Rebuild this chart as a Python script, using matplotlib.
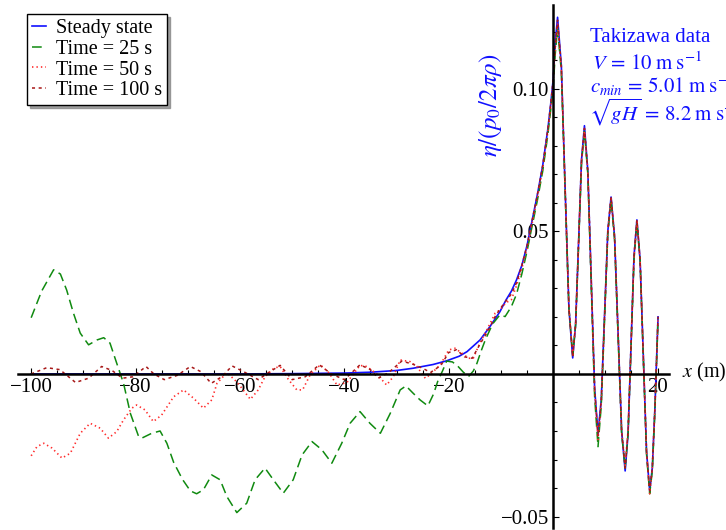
import numpy as np
import matplotlib
matplotlib.use("Agg")
import matplotlib.pyplot as plt

plt.rcParams['font.family'] = ['Liberation Serif', 'DejaVu Serif']
plt.rcParams['mathtext.fontset'] = 'stix'
plt.rcParams['lines.scale_dashes'] = False

# ---- data ----
# near field x grid shared by all four curves
x_near = [-8, -7, -6, -5, -4, -3, -2, -1, -0.5, 0, 0.4, 0.85, 1.575, 2.3, 3.025, 3.75,
          4.31, 4.875, 5.44, 6.0, 6.65, 7.3, 7.95, 8.6, 9.225, 9.85, 10.475, 11.1,
          11.775, 12.45, 13.125, 13.8, 14.36, 14.925, 15.49, 16.05, 16.66, 17.275,
          17.89, 18.5, 19.0, 19.5, 20.1]

# steady state
x_far_ss = [-100, -60, -50, -45, -40, -35, -30, -26.8, -23, -20.4, -18, -16.5, -14,
            -12.1, -10.2, -9]
y_far_ss = [0, 0, 0.0001, 0.0002, 0.0003, 0.0006, 0.0012, 0.002, 0.0033, 0.0046,
            0.0062, 0.0078, 0.0119, 0.0166, 0.0218, 0.026]
y_near_ss = [0.029, 0.033, 0.038, 0.045, 0.054, 0.063, 0.073, 0.086, 0.094, 0.103,
             0.116, 0.125, 0.108, 0.065, 0.023, 0.0056, 0.0175, 0.046, 0.075, 0.087,
             0.071, 0.033, -0.005, -0.021, -0.009, 0.0205, 0.050, 0.062, 0.048,
             0.014, -0.020, -0.034, -0.021, 0.010, 0.041, 0.054, 0.040, 0.0065,
             -0.027, -0.041, -0.033, -0.012, 0.020]

# time = 25 s
x_far_25 = [-100, -98, -95.7, -94.4, -93.2, -91.9, -90.6, -89.0, -87.4, -86.1, -84.9,
            -83.6, -82.3, -81.0, -79.4, -78.8, -76.9, -75.3, -74.0, -72.7, -71.0,
            -69.5, -68.3, -67.0, -65.4, -63.8, -62.5, -60.6, -58.7, -57.1, -55.2,
            -53.6, -51.7, -49.8, -48.1, -46.2, -44.3, -42.4, -40.5, -38.9, -37.0,
            -35.1, -33.1, -31.2, -29.3, -28.2, -26.8, -25.5, -24.0, -22.9, -22.0,
            -21.2, -20.4, -19.3, -18.4, -17.2, -16.2, -15.3, -14.6, -13.8, -13.0,
            -11.6, -10.2, -9.2]
y_far_25 = [0.0197, 0.029, 0.0365, 0.035, 0.0294, 0.0213, 0.0143, 0.0102, 0.0119,
            0.0127, 0.0108, 0.0037, -0.0033, -0.0138, -0.022, -0.0225, -0.0208,
            -0.020, -0.0243, -0.031, -0.037, -0.041, -0.042, -0.0406, -0.0354,
            -0.0371, -0.043, -0.0486, -0.0453, -0.0371, -0.033, -0.0371, -0.0418,
            -0.0371, -0.0284, -0.0237, -0.0266, -0.0313, -0.0243, -0.0173, -0.0132,
            -0.0173, -0.0208, -0.0138, -0.0056, -0.0042, -0.0068, -0.0091, -0.0112,
            -0.007, -0.002, 0.001, 0.0045, 0.0042, 0.003, 0.0006, -0.0009, 0.001,
            0.0037, 0.008, 0.0119, 0.0175, 0.0207, 0.0201]
y_near_25 = [0.0236, 0.028, 0.035, 0.043, 0.052, 0.061, 0.071, 0.084, 0.092, 0.100,
             0.112, 0.121, 0.106, 0.064, 0.023, 0.0065, 0.017, 0.045, 0.074, 0.085,
             0.070, 0.031, -0.008, -0.0255, -0.011, 0.019, 0.049, 0.061, 0.047,
             0.013, -0.021, -0.033, -0.021, 0.009, 0.040, 0.053, 0.040, 0.006,
             -0.028, -0.042, -0.034, -0.013, 0.019]

# time = 50 s
x_far_50 = [-100, -98.9, -97.6, -96.0, -94.1, -92.5, -90.6, -88.7, -86.8, -85.2,
            -83.6, -82.3, -80.7, -79.8, -78.2, -76.6, -75.0, -72.7, -70.8, -68.9,
            -67.0, -65.4, -64.4, -62.5, -60.5, -58.0, -56.5, -55.2, -53.5, -52.3,
            -50.7, -49.1, -48.0, -46.6, -44.6, -43.0, -41.4, -39.5, -37.0, -35.7,
            -33.8, -31.9, -30.6, -29.3, -27.4, -26.1, -24.5, -23.6, -21.6, -20.0,
            -18.8, -17.5, -16.2, -15.3, -14.0, -12.7, -11.1, -10.2, -9.0]
y_far_50 = [-0.0287, -0.0255, -0.0243, -0.026, -0.0295, -0.0278, -0.0208, -0.0173,
            -0.019, -0.0225, -0.0202, -0.0161, -0.012, -0.0109, -0.0126, -0.0167,
            -0.0144, -0.008, -0.0056, -0.0085, -0.012, -0.0091, -0.0033, 0.0005,
            -0.003, -0.0089, -0.0056, -0.001, 0.002, 0.0026, -0.002, -0.0056,
            -0.0056, -0.0005, 0.0032, 0.0005, -0.0039, -0.003, 0.003, 0.0026, 0.0,
            -0.0039, -0.0009, 0.0049, 0.0043, 0.0026, -0.0015, -0.0003, 0.0032,
            0.0084, 0.009, 0.0073, 0.0055, 0.0055, 0.011, 0.0154, 0.0213, 0.0224,
            0.025]
y_near_50 = [0.026, 0.031, 0.037, 0.044, 0.053, 0.062, 0.072, 0.085, 0.093, 0.102,
             0.114, 0.123, 0.107, 0.065, 0.023, 0.006, 0.0175, 0.046, 0.075, 0.086,
             0.071, 0.033, -0.006, -0.023, -0.010, 0.020, 0.050, 0.062, 0.048,
             0.014, -0.020, -0.032, -0.020, 0.010, 0.041, 0.054, 0.040, 0.0065,
             -0.027, -0.042, -0.033, -0.012, 0.020]

# time = 100 s
x_far_100 = [-100, -97, -94.5, -91.5, -89, -86.5, -84.5, -82.5, -80.5, -78, -76.5,
             -74.5, -72, -69.5, -67.5, -65.5, -63.5, -61.5, -59, -56.5, -54.5, -52.3,
             -50, -47.5, -44.8, -42.5, -40, -37, -35, -33.5, -31.5, -29, -27, -25,
             -23.5, -21.5, -20, -18.5, -17, -15.5, -14, -12.5, -11, -9.5]
y_far_100 = [0.0, 0.0022, 0.0015, -0.003, -0.0015, 0.0026, 0.0012, -0.0015, -0.001,
             0.0026, 0.0, -0.002, -0.0005, 0.0026, 0.0008, -0.0033, -0.001, 0.0028,
             0.0005, -0.002, 0.0005, 0.003, -0.002, -0.001, 0.0032, 0.0, -0.002,
             0.0032, 0.0015, -0.0015, 0.0005, 0.0045, 0.0035, 0.002, 0.0005, 0.003,
             0.0075, 0.0085, 0.006, 0.0055, 0.0105, 0.015, 0.0205, 0.0245]
y_near_100 = [0.028, 0.032, 0.038, 0.045, 0.054, 0.063, 0.073, 0.086, 0.094, 0.103,
              0.115, 0.124, 0.108, 0.065, 0.023, 0.006, 0.0175, 0.046, 0.075, 0.086,
              0.071, 0.033, -0.005, -0.022, -0.009, 0.020, 0.050, 0.062, 0.048,
              0.014, -0.020, -0.033, -0.020, 0.010, 0.041, 0.054, 0.040, 0.0065,
              -0.027, -0.041, -0.033, -0.012, 0.020]

labels = ['Steady state', 'Time = 25 s', 'Time = 50 s', 'Time = 100 s']
xtick_vals = [-100, -80, -60, -40, -20, 20]
xtick_text = ['\u2212100', '\u221280', '\u221260', '\u221240', '\u221220', '20']
ytick_vals = [-0.05, 0.05, 0.10]
ytick_text = ['\u22120.05', '0.05', '0.10']

# ---- figure ----
W, H = 726, 530
fig = plt.figure(figsize=(W / 100, H / 100), dpi=100)
ax = fig.add_axes([17.6 / W, 1 - 528 / H, (669 - 17.6) / W, (528 - 5) / H])
ax.set_xlim(-102.6, 22.2)
ax.set_ylim(-0.054, 0.1293)

blue = '#1010ff'
l_ss, = ax.plot(x_far_ss + x_near, y_far_ss + y_near_ss, color=blue, lw=1.2,
                label=labels[0])
l_25, = ax.plot(x_far_25 + x_near, y_far_25 + y_near_25, color='#108a10', lw=1.1,
                ls=(0, (7, 3.6)), label=labels[1])
l_50, = ax.plot(x_far_50 + x_near, y_far_50 + y_near_50, color='#ff2a2a', lw=1.2,
                ls=(0, (1, 2.2)), label=labels[2])
l_100, = ax.plot(x_far_100 + x_near, y_far_100 + y_near_100, color='#a81818', lw=1.1,
                 ls=(0, (2.2, 2.6)), label=labels[3])

# axes through the origin, Mathematica style
for s in ['top', 'right']:
    ax.spines[s].set_visible(False)
ax.spines['left'].set_position(('data', 0))
ax.spines['bottom'].set_position(('data', 0))
ax.spines['left'].set_linewidth(1.8)
ax.spines['bottom'].set_linewidth(1.8)

ax.set_xticks(xtick_vals)
ax.set_xticklabels(xtick_text)
ax.set_xticks(np.arange(-100, 21, 5), minor=True)
ax.set_yticks(ytick_vals)
ax.set_yticklabels(ytick_text)
ax.set_yticks(np.arange(-0.05, 0.125, 0.01), minor=True)
ax.tick_params(which='both', direction='in', labelsize=15, width=0.8, pad=3)
ax.tick_params(which='major', length=4.5)
ax.tick_params(which='minor', length=2.6)

fig.text(682 / W, 1 - 372 / H, r'$x$ (m)', fontsize=14.5, ha='left', va='center')
fig.text(491 / W, 1 - 105 / H, r'$\eta/(p_0/2\pi\rho)$', fontsize=18, color=blue,
         rotation=90, ha='center', va='center')

fig.text(590 / W, 1 - 42 / H, 'Takizawa data', fontsize=15, color=blue, va='baseline')
fig.text(592 / W, 1 - 70 / H, r'$V\,{=}\,10\;\mathrm{m\;s^{-1}}$', fontsize=15,
         color=blue, va='baseline')
fig.text(590 / W, 1 - 93 / H, r'$c_{min}\,{=}\,5.01\;\mathrm{m\;s^{-1}}$', fontsize=15,
         color=blue, va='baseline')
fig.text(589 / W, 1 - 121 / H, r'$\sqrt{gH}\,{=}\,8.2\;\mathrm{m\;s^{-1}}$', fontsize=15,
         color=blue, va='baseline')

leg = fig.legend(handles=[l_ss, l_25, l_50, l_100], loc='upper left',
                 bbox_to_anchor=(27 / W, 1 - 14 / H), bbox_transform=fig.transFigure,
                 borderaxespad=0, fontsize=14.5, handlelength=0.7, handletextpad=0.5,
                 labelspacing=0.08, borderpad=0.25, fancybox=False, framealpha=1,
                 edgecolor='black', shadow={'color': '#888888', 'alpha': 0.8})
leg.get_frame().set_linewidth(1.0)

fig.savefig('out.png', dpi=100)
